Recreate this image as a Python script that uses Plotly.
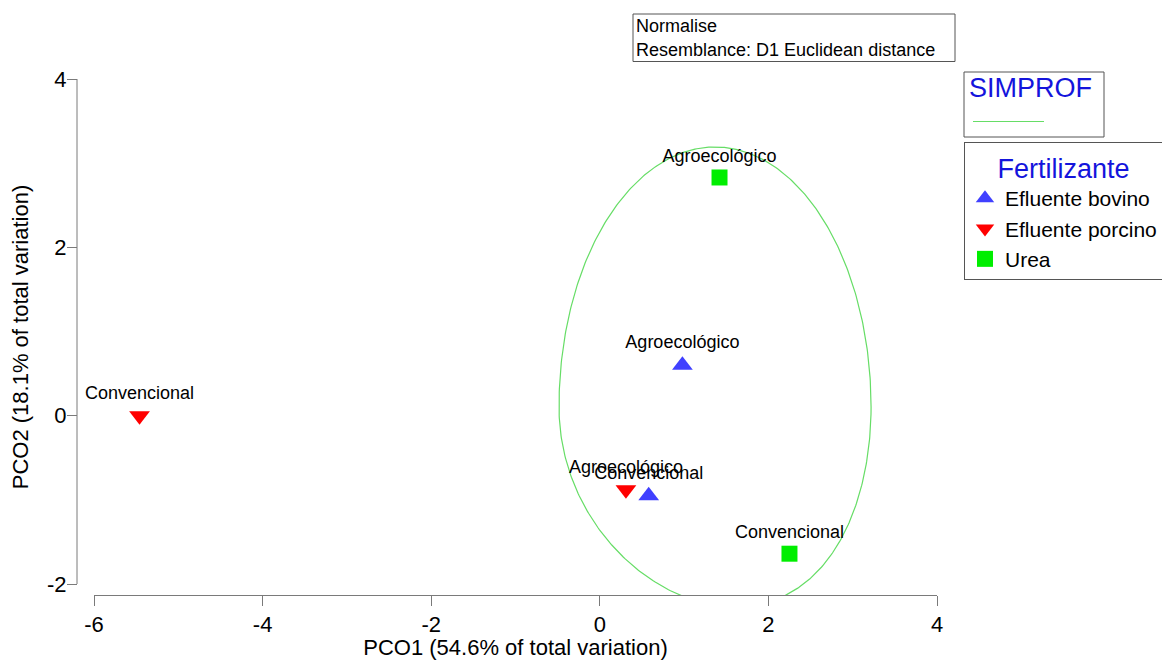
import numpy as np
import plotly.graph_objects as go

# ---------------- data ----------------
groups = ["Efluente bovino", "Efluente porcino", "Urea"]

bovino_x = [0.98, 0.58]
bovino_y = [0.60, -0.95]
bovino_lbl = ["Agroecológico", "Convencional"]

porcino_x = [-5.46, 0.31]
porcino_y = [0.00, -0.88]
porcino_lbl = ["Convencional", "Agroecológico"]

urea_x = [1.42, 2.25]
urea_y = [2.83, -1.64]
urea_lbl = ["Agroecológico", "Convencional"]

x_ticks = [-6, -4, -2, 0, 2, 4]
x_tick_text = ["-6", "-4", "-2", "0", "2", "4"]
y_ticks = [-2, 0, 2, 4]
y_tick_text = ["-2", "0", "2", "4"]

x_title = "PCO1 (54.6% of total variation)"
y_title = "PCO2 (18.1% of total variation)"
note_lines = ["Normalise", "Resemblance: D1 Euclidean distance"]

# SIMPROF group outline (egg-shaped ellipse) parameters, data units
simprof_center = (1.367, 0.103)
simprof_halfwidth = 1.851
simprof_r_top = 3.089
simprof_r_bottom = 2.376
simprof_shift_bottom = 0.24

# ---------------- styling ----------------
W, H = 1162, 660
FONT = "Arial, Liberation Sans, sans-serif"
BLUE_TXT = "#1414DC"
AXIS_COL = "#7a7a7a"
COL_BOV = "#4040FF"
COL_POR = "#FF0000"
COL_URE = "#00EE00"
ELL_COL = "#66DD66"


def fx(px):
    return px / W


def fy(py):
    return 1 - py / H


# plot-area pixel geometry
X_LEFT, X_RIGHT = 94, 937
Y_TOP, Y_BOT = 79, 595
px_per_y = (584 - 79) / 6.0
y_bottom_val = 4 - (Y_BOT - Y_TOP) / px_per_y

fig = go.Figure()

# SIMPROF outline
t = np.linspace(0, 2 * np.pi, 500)
cx, cy = simprof_center
ex = []
ey = []
for tt in t:
    s = np.sin(tt)
    if s >= 0:
        yy = cy + simprof_r_top * s
        shift = 0.0
    else:
        yy = cy + simprof_r_bottom * s
        shift = simprof_shift_bottom * s * s
    xx = cx + simprof_halfwidth * np.cos(tt) + shift
    ex.append(xx)
    ey.append(yy)
fig.add_trace(go.Scatter(x=ex, y=ey, mode="lines",
                         line=dict(color=ELL_COL, width=1.2),
                         showlegend=False, hoverinfo="skip"))

series = [
    (groups[0], bovino_x, bovino_y, bovino_lbl, "triangle-up", COL_BOV, 18),
    (groups[1], porcino_x, porcino_y, porcino_lbl, "triangle-down", COL_POR, 18),
    (groups[2], urea_x, urea_y, urea_lbl, "square", COL_URE, 16),
]
for name, xs, ys, lbl, sym, col, sz in series:
    fig.add_trace(go.Scatter(
        x=xs, y=ys, mode="markers+text", name=name,
        text=lbl, textposition="top center",
        textfont=dict(size=18, color="black", family=FONT),
        marker=dict(symbol=sym, color=col, size=sz, line=dict(width=0)),
        cliponaxis=False,
    ))

# detached y-axis line (from -2 to 4)
fig.add_shape(type="line", xref="paper", yref="y",
              x0=fx(77), x1=fx(77), y0=y_ticks[0], y1=y_ticks[-1],
              line=dict(color=AXIS_COL, width=1))

# Normalise box
fig.add_shape(type="rect", xref="paper", yref="paper",
              x0=fx(633), x1=fx(955), y0=fy(14), y1=fy(61.5),
              line=dict(color="#555555", width=1), fillcolor="rgba(0,0,0,0)")
for i, line_txt in enumerate(note_lines):
    fig.add_annotation(xref="paper", yref="paper", x=fx(634), y=fy(26 + 24 * i),
                       text=line_txt, showarrow=False, xanchor="left", yanchor="middle",
                       font=dict(size=18, color="black", family=FONT))

# SIMPROF box
fig.add_shape(type="rect", xref="paper", yref="paper",
              x0=fx(964), x1=fx(1104), y0=fy(72), y1=fy(137),
              line=dict(color="#555555", width=1), fillcolor="rgba(0,0,0,0)")
fig.add_annotation(xref="paper", yref="paper", x=fx(967), y=fy(88),
                   text="SIMPROF", showarrow=False, xanchor="left", yanchor="middle",
                   font=dict(size=27, color=BLUE_TXT, family=FONT))
fig.add_shape(type="line", xref="paper", yref="paper",
              x0=fx(973), x1=fx(1044), y0=fy(121.5), y1=fy(121.5),
              line=dict(color=ELL_COL, width=1.2))

fig.update_layout(
    width=W, height=H,
    margin=dict(l=0, r=0, t=0, b=0, autoexpand=False),
    paper_bgcolor="white", plot_bgcolor="white",
    font=dict(family=FONT, color="black"),
    xaxis=dict(
        domain=[fx(X_LEFT), fx(X_RIGHT)], range=[x_ticks[0], x_ticks[-1]],
        anchor="y", showline=True, linecolor=AXIS_COL, linewidth=1,
        ticks="outside", ticklen=10, tickcolor=AXIS_COL, tickwidth=1,
        tickvals=x_ticks, ticktext=x_tick_text,
        tickfont=dict(size=22, family=FONT, color="black"),
        showgrid=False, zeroline=False,
        title=dict(text=x_title, font=dict(size=22, family=FONT, color="black"), standoff=2),
        automargin=False,
    ),
    yaxis=dict(
        domain=[fy(Y_BOT), fy(Y_TOP)], range=[y_bottom_val, 4],
        anchor="free", position=fx(77), showline=False,
        ticks="outside", ticklen=10, tickcolor=AXIS_COL, tickwidth=1,
        tickvals=y_ticks, ticktext=y_tick_text,
        tickfont=dict(size=22, family=FONT, color="black"),
        ticklabelstandoff=-4,
        showgrid=False, zeroline=False,
        title=dict(text=y_title, font=dict(size=22, family=FONT, color="black"), standoff=11),
        automargin=False,
    ),
    legend=dict(
        x=fx(964), y=fy(142), xanchor="left", yanchor="top",
        bordercolor="#555555", borderwidth=1, bgcolor="white",
        font=dict(size=21, color="black", family=FONT),
        title=dict(text="Fertilizante", side="top center",
                   font=dict(size=27, color=BLUE_TXT, family=FONT)),
        tracegroupgap=0,
    ),
    showlegend=True,
)

fig.write_html("out.html", config={"displayModeBar": False},
               post_script="document.body.style.margin='0px';")
